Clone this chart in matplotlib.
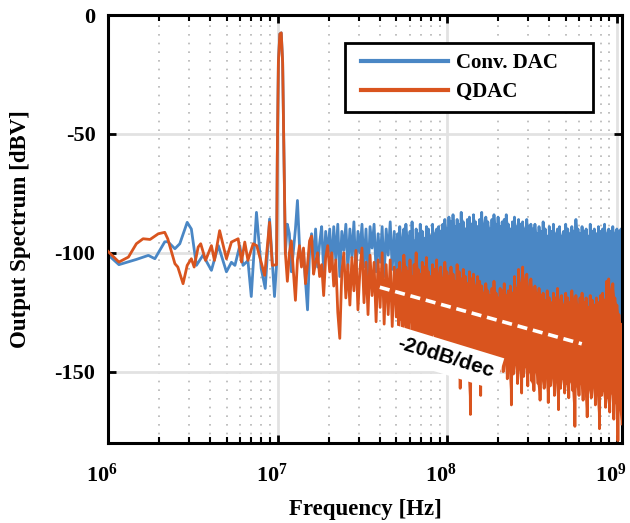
import numpy as np
import matplotlib.pyplot as plt
import matplotlib.transforms as mtransforms
from matplotlib.patches import Rectangle
from matplotlib.ticker import FixedLocator, FuncFormatter, LogLocator, NullLocator

plt.rcParams["font.family"] = "Liberation Serif"
plt.rcParams["font.weight"] = "bold"
plt.rcParams["axes.labelweight"] = "bold"
plt.rcParams["axes.unicode_minus"] = False
plt.rcParams["mathtext.fontset"] = "custom"
plt.rcParams["mathtext.rm"] = "Liberation Serif:bold"

BLUE = "#4a87c5"
ORANGE = "#d9541e"

# low band + test tone, frequencies in MHz, levels in dBV
conv_low_f = [1.00, 1.16, 1.35, 1.47, 1.73, 1.89, 2.16, 2.25, 2.48, 2.65,
              2.93, 3.10, 3.32, 3.63, 4.07, 4.47, 4.99, 5.34, 5.60, 5.98,
              6.25, 6.68, 6.99, 7.50, 8.00, 8.45, 8.96, 9.58,
              9.85, 9.95, 10.1, 10.3, 10.5, 10.7, 10.9]
conv_low = [-100.8, -105, -103.6, -102.8, -101.1, -102.5, -95.4, -95.3, -98.3, -96.2,
            -87.2, -90, -105.3, -101, -107.4, -97, -108, -104, -105.3, -97,
            -105.3, -103.3, -118.4, -83, -106.7, -115, -85.8, -118.4,
            -105, -60, -20, -8, -7.5, -20, -60]

qdac_low_f = [1.00, 1.16, 1.32, 1.47, 1.61, 1.77, 1.98, 2.16, 2.25, 2.48,
              2.58, 2.77, 2.93, 3.10, 3.22, 3.40, 3.52, 3.76, 4.07, 4.24,
              4.55, 4.99, 5.34, 5.85, 6.12, 6.40, 6.68, 7.17, 7.53, 8.38,
              8.96, 9.30,
              9.85, 9.95, 10.1, 10.3, 10.5, 10.7, 10.9]
qdac_low = [-99.4, -103.9, -101.8, -96.2, -94.1, -94.4, -92, -91.4, -94.1, -104.6,
            -106, -113, -105.3, -102.5, -106, -97.6, -96.2, -103.2, -97, -103.2,
            -90.7, -102.5, -95.5, -94.1, -103.9, -95.5, -103.2, -96.2, -97, -109.5,
            -87.2, -105.3,
            -105, -60, -20, -8, -7.5, -20, -60]

conv_mid = [-100, -88, -92, -108, -99, -90, -78, -97, -105, -100,
            -112, -124, -100, -92, -104, -90, -106, -96, -89, -108,
            -91, -101, -90, -106, -89, -103, -88, -110, -91, -99,
            -88, -107, -90, -102, -87, -109, -91, -100, -88, -106,
            -90, -111, -89, -98, -88, -108, -92, -104, -89, -110,
            -90, -101, -87, -107, -91, -112]
qdac_mid = [-100, -112, -100, -95, -108, -120, -103, -97, -106, -98,
            -113, -105, -95, -93, -109, -104, -100, -110, -105, -118,
            -102, -97, -108, -100, -114, -103, -125, -136, -108, -100,
            -119, -105, -122, -102, -116, -99, -124, -107, -98, -121,
            -104, -126, -101, -118, -104, -129, -103, -123, -100, -130,
            -105, -126, -103, -131, -106, -127]

# 51 MHz - 1.07 GHz: upper and lower edges of the noise floor
conv_hi = [-92, -89, -94, -90, -88, -93, -91, -87, -95, -90, -92, -88, -91, -94, -89, -90,
           -93, -88, -92, -90, -89, -91,
           -88, -86, -90, -85, -87, -84, -89, -86, -88, -83, -87, -90, -86, -85, -88, -84,
           -87, -89, -86, -83, -88, -85, -87, -90, -86, -84, -88, -85, -89, -87, -86, -84,
           -88, -90, -87, -85, -89, -86, -88, -87, -90, -86, -89, -88,
           -90, -88, -92, -89, -91, -87, -90, -93, -89, -91, -88, -92, -90, -89, -93, -91,
           -88, -90, -92, -89, -91, -86, -90, -92, -89, -91, -90, -93, -88, -91, -90, -92,
           -89, -91, -90, -88, -92, -90, -91, -89, -92, -90, -91, -90]
conv_lo = [-110, -116, -108, -118, -112, -120, -114, -109, -117, -122, -113, -111, -119, -115,
           -121, -112, -118, -114, -123, -116, -110, -120, -117, -113, -124, -115, -119, -112,
           -121, -118, -114, -122, -116, -120, -113, -125, -117, -119, -115, -123, -118, -121,
           -114, -120, -124, -116, -122, -119, -117, -125, -121, -118, -123, -120, -122,
           -119, -124, -121, -126, -118, -123, -120, -125, -122, -119, -124, -121, -127, -123,
           -120, -125, -122, -126, -124, -121, -127, -123, -125, -122, -128, -124, -126, -123,
           -127, -125, -122, -128, -124, -126, -125, -129, -123, -127, -125, -128, -126, -124,
           -129, -127, -125, -128, -126, -130, -127, -129, -128, -126, -130, -128, -129]
qdac_hi = [-107, -104, -109, -101, -106, -108, -103, -110, -105, -100, -107, -109, -104, -106,
           -102, -108, -110, -105, -107, -103, -109, -106, -111, -104, -108, -110, -106, -109,
           -112, -105, -108, -111, -107, -110, -113, -108, -111, -109, -114, -110, -112,
           -114, -117, -113, -116, -118, -115, -112, -117, -119, -115, -116, -113, -118, -116,
           -114, -117, -110, -115, -107, -113, -106, -112, -109, -115, -111, -116, -114, -117,
           -115, -118,
           -117, -120, -116, -119, -121, -117, -119, -115, -120, -118, -122, -117, -119, -121,
           -116, -120, -118, -122, -119, -117, -121, -119, -123, -118, -120, -122, -119, -121,
           -118,
           -117, -120, -112, -111, -116, -113, -119, -122, -126, -130]
qdac_lo = [-132, -128, -138, -130, -142, -134, -129, -140, -136, -131, -144, -137, -133, -141,
           -135, -139, -146, -134, -138, -143, -137, -141,
           -142, -138, -147, -140, -145, -149, -141, -146, -157, -143, -148, -141, -150, -168,
           -146, -142, -149, -145, -160, -147, -143, -151, -146, -149, -144, -152, -147, -150,
           -145,
           -150, -146, -153, -148, -164, -151, -147, -155, -149, -159, -152, -148, -156, -150,
           -154,
           -158, -150, -155, -162, -153, -157, -151, -163, -156, -152, -160, -154, -166, -157,
           -153, -159, -155, -161, -154, -158, -173, -156, -160, -155, -162, -158, -169, -157,
           -161, -156, -164, -159, -174, -160, -158, -165, -161, -167, -159, -170, -163, -179,
           -166, -172]


def zigzag(hi, lo):
    out = np.empty(len(hi) + len(lo))
    out[0::2] = hi
    out[1::2] = lo
    return out


mid_f = np.geomspace(11.1e6, 50e6, len(conv_mid))
dense_f = np.geomspace(51e6, 1.07e9, 2 * len(conv_hi))

conv_f = np.concatenate([np.array(conv_low_f) * 1e6, mid_f, dense_f])
conv_db = np.concatenate([conv_low, conv_mid, zigzag(conv_hi, conv_lo)])
qdac_f = np.concatenate([np.array(qdac_low_f) * 1e6, mid_f, dense_f])
qdac_db = np.concatenate([qdac_low, qdac_mid, zigzag(qdac_hi, qdac_lo)])

fig = plt.figure(figsize=(6.3, 5.23), dpi=100)
ax = fig.add_axes([0.1714, 0.153, 0.8159, 0.8183])

# solid noise floor between the edges, traces on top
ax.fill_between(dense_f[0::2], conv_lo, conv_hi, color=BLUE, lw=0, zorder=2)
ax.plot(conv_f, conv_db, color=BLUE, lw=2.0, label="Conv. DAC", zorder=2)
ax.fill_between(dense_f[0::2], qdac_lo, qdac_hi, color=ORANGE, lw=0, zorder=3)
ax.plot(qdac_f, qdac_db, color=ORANGE, lw=2.0, label="QDAC", zorder=3)

# -20 dB/dec guide
guide_f = np.array([40e6, 620e6])
guide_db = -114.5 - 20 * np.log10(guide_f / guide_f[0])
ax.plot(guide_f, guide_db, color="white", lw=2.6, dashes=(2.8, 1.6), zorder=6)
ax.text(9.7e7, -144, "-20dB/dec", rotation=-17, ha="center", va="center",
        fontfamily="Liberation Sans", fontweight="bold", fontsize=15,
        bbox=dict(facecolor="white", edgecolor="none", pad=5), zorder=5)

ax.set_xscale("log")
ax.set_xlim(1e6, 1.07e9)
ax.set_ylim(-180, 0)
ax.xaxis.set_major_locator(FixedLocator([1e6, 1e7, 1e8, 1e9]))
ax.xaxis.set_major_formatter(FuncFormatter(lambda v, p: r"$\mathrm{10^{%d}}$" % round(np.log10(v))))
ax.xaxis.set_minor_locator(LogLocator(base=10, subs=np.arange(2, 10)))
ax.yaxis.set_major_locator(FixedLocator([-150, -100, -50, 0]))
ax.yaxis.set_minor_locator(NullLocator())

ax.set_axisbelow(True)
ax.grid(which="major", color="#e2e2e2", lw=2, ls="-")
ax.grid(which="minor", axis="x", color="#b5b5b5", lw=1.2, ls=(0, (1, 4.2)))

ax.tick_params(which="both", direction="in", top=True, right=True, labelsize=16)
ax.tick_params(axis="y", pad=9)
ax.tick_params(axis="x", pad=15)
ax.tick_params(which="major", length=6, width=2)
ax.tick_params(which="minor", length=4, width=1.5)
for s in ax.spines.values():
    s.set_linewidth(2.2)

shift = mtransforms.ScaledTranslation(-0.06, 0, fig.dpi_scale_trans)
for lab in ax.get_xticklabels():
    lab.set_transform(lab.get_transform() + shift)

ax.set_xlabel("Frequency [Hz]", fontsize=16.5)
ax.set_ylabel("Output Spectrum [dBV]", fontsize=16.5)
ax.xaxis.set_label_coords(0.5, -0.13)
ax.yaxis.set_label_coords(-0.15, 0.5)

# legend frame drawn separately so it can keep the wide right margin
frame = Rectangle((0.461, 0.773), 0.483, 0.162, transform=ax.transAxes,
                  facecolor="white", edgecolor="black", lw=2, zorder=7)
ax.add_patch(frame)
leg = ax.legend(loc="center left", bbox_to_anchor=(0.492, 0.854), borderaxespad=0,
                fontsize=15, handlelength=4.2, handletextpad=0.38, labelspacing=0.42,
                frameon=False, borderpad=0)
leg.set_zorder(8)
for h in leg.get_lines():
    h.set_linewidth(3)

fig.savefig("out.png", dpi=100)
